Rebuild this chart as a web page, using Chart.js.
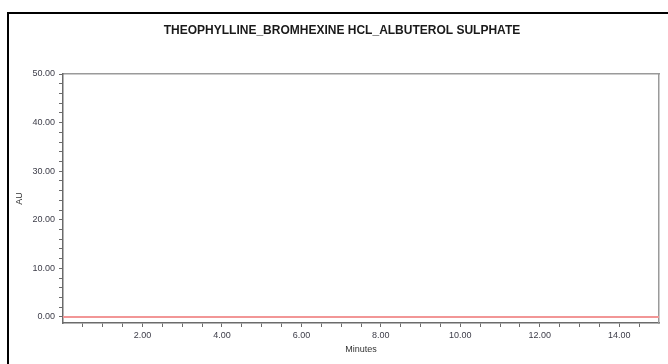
<!DOCTYPE html>
<html>
<head>
<meta charset="utf-8">
<script src="https://cdn.jsdelivr.net/npm/chart.js@4/dist/chart.umd.min.js"></script>
<style>
  html, body { margin: 0; padding: 0; background: #fff; }
  body { width: 668px; height: 364px; position: relative; overflow: hidden; }
  #frame { position: absolute; left: 7px; top: 12px; width: 700px; height: 400px;
           border-left: 2px solid #000; border-top: 2px solid #000; box-sizing: border-box; z-index: 0; }
  #wrap { position: absolute; left: 0; top: 0; width: 668px; height: 364px; z-index: 1; }
</style>
</head>
<body>
<div id="frame"></div>
<div id="wrap"><canvas id="c" width="668" height="364"></canvas></div>
<script>
// ---- data ----
const chartTitle = 'THEOPHYLLINE_BROMHEXINE HCL_ALBUTEROL SULPHATE';
const times = [0.00, 15.00];          // minutes
const au = [0.00, 0.00];              // baseline signal (AU)
const xMajorTicks = [2, 4, 6, 8, 10, 12, 14];
const yMajorTicks = [0, 10, 20, 30, 40, 50];
const xTickPositions = [0.5, 1, 1.5, 2, 2.5, 3, 3.5, 4, 4.5, 5, 5.5, 6, 6.5, 7, 7.5, 8, 8.5, 9, 9.5, 10, 10.5, 11, 11.5, 12, 12.5, 13, 13.5, 14, 14.5];
const yTickPositions = [0, 2, 4, 6, 8, 10, 12, 14, 16, 18, 20, 22, 24, 26, 28, 30, 32, 34, 36, 38, 40, 42, 44, 46, 48, 50];
const xLabel = 'Minutes';
const yLabel = 'AU';

const points = times.map((t, i) => ({ x: t, y: au[i] }));
const FONT = "'Liberation Sans', Arial, sans-serif";
const axisColor = '#6b6b6b';
const tickColor = '#3c3c48';

new Chart(document.getElementById('c'), {
  type: 'line',
  data: {
    datasets: [{
      data: points,
      borderColor: '#f29696',
      borderWidth: 2,
      pointRadius: 0,
      tension: 0,
      fill: false
    }]
  },
  options: {
    responsive: false,
    animation: false,
    layout: { padding: { left: 16, right: 0, top: 0, bottom: 0 } },
    plugins: {
      legend: { display: false },
      tooltip: { enabled: false },
      title: {
        display: true,
        text: chartTitle,
        color: '#1a1a1a',
        font: { family: FONT, size: 12, weight: 'bold', lineHeight: 1.2 },
        padding: { top: 23, bottom: 36.6 }
      }
    },
    scales: {
      x: {
        type: 'linear',
        position: 'bottom',
        min: 0, max: 15,
        afterFit: s => { s.height = 41; },
        afterBuildTicks: s => { s.ticks = xTickPositions.map(v => ({ value: v })); },
        ticks: {
          autoSkip: false,
          maxRotation: 0,
          padding: 3,
          color: tickColor,
          font: { family: FONT, size: 9 },
          callback: v => xMajorTicks.includes(v) ? v.toFixed(2) : ''
        },
        grid: { drawOnChartArea: false, drawTicks: true, tickLength: 4, color: axisColor, lineWidth: 1 },
        border: { display: true, color: axisColor, width: 1.5 },
        title: {
          display: true, text: xLabel, color: '#333',
          font: { family: FONT, size: 9, lineHeight: 1.2 },
          padding: { top: 0, bottom: 8.6 }
        }
      },
      x2: {
        type: 'linear',
        position: 'top',
        min: 0, max: 15,
        afterFit: s => { s.height = 0; },
        ticks: { display: false },
        grid: { drawOnChartArea: false, drawTicks: false },
        border: { display: true, color: '#9a9a9a', width: 1.5 }
      },
      y: {
        type: 'linear',
        position: 'left',
        min: -1.25, max: 50,
        afterFit: s => { s.width = 47; },
        afterBuildTicks: s => { s.ticks = yTickPositions.map(v => ({ value: v })); },
        ticks: {
          autoSkip: false,
          padding: 4,
          color: tickColor,
          font: { family: FONT, size: 9 },
          callback: v => yMajorTicks.includes(v) ? v.toFixed(2) : ''
        },
        grid: { drawOnChartArea: false, drawTicks: true, tickLength: 4, color: axisColor, lineWidth: 1 },
        border: { display: true, color: axisColor, width: 1.5 },
        title: {
          display: true, text: yLabel, color: '#333',
          font: { family: FONT, size: 9, lineHeight: 1.2 },
          padding: { top: -1.4, bottom: 0 }
        }
      },
      y2: {
        type: 'linear',
        position: 'right',
        min: -1.25, max: 50,
        afterFit: s => { s.width = 9; },
        ticks: { display: false },
        grid: { drawOnChartArea: false, drawTicks: false },
        border: { display: true, color: '#9a9a9a', width: 1.5 }
      }
    }
  }
});
</script>
</body>
</html>
